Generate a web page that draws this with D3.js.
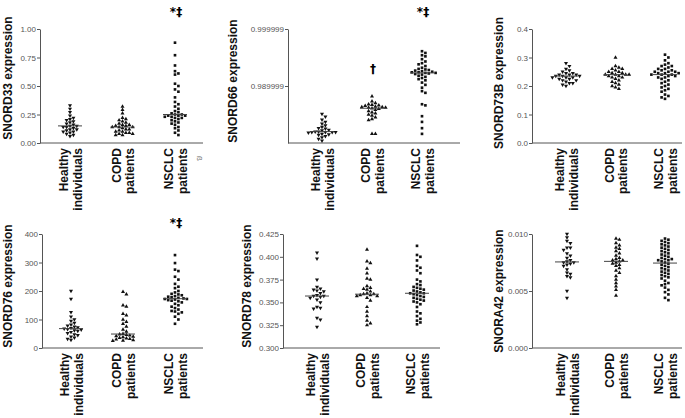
<!DOCTYPE html>
<html>
<head>
<meta charset="utf-8">
<script src="https://cdn.jsdelivr.net/npm/d3@7"></script>
<style>
  body { margin: 0; background: #fff; }
  svg { font-family: "Liberation Sans", Arial, sans-serif; }
  .tick text { fill: #555; font-size: 8px; }
  .tick line, .domain { stroke: #555; }
  .ylab, .xlab { font-weight: bold; font-size: 12px; fill: #111; }
  .sig { font-family: "DejaVu Sans", sans-serif; font-weight: bold; fill: #000; }
</style>
</head>
<body>
<div id="vis"></div>
<script>
const groups = ['Healthy individuals', 'COPD patients', 'NSCLC patients'];
const groupLines = [['Healthy', 'individuals'], ['COPD', 'patients'], ['NSCLC', 'patients']];

// SNORD33
const snord33Healthy = [0.33, 0.30, 0.27, 0.24, 0.22, 0.21, 0.20, 0.19, 0.18, 0.17, 0.16, 0.15, 0.15, 0.14, 0.14, 0.13, 0.12, 0.12, 0.11, 0.10, 0.10, 0.09, 0.08, 0.07, 0.06];
const snord33Copd = [0.32, 0.29, 0.26, 0.22, 0.21, 0.20, 0.19, 0.18, 0.17, 0.16, 0.16, 0.15, 0.15, 0.14, 0.14, 0.14, 0.13, 0.12, 0.12, 0.11, 0.10, 0.10, 0.09, 0.09, 0.08, 0.08, 0.07, 0.07];
const snord33Nsclc = [0.88, 0.77, 0.68, 0.63, 0.61, 0.60, 0.52, 0.50, 0.47, 0.45, 0.40, 0.36, 0.34, 0.32, 0.30, 0.28, 0.27, 0.26, 0.25, 0.25, 0.24, 0.24, 0.24, 0.23, 0.23, 0.22, 0.22, 0.21, 0.20, 0.19, 0.18, 0.17, 0.16, 0.14, 0.13, 0.11, 0.09, 0.07];

// SNORD66
const snord66Healthy = [0.9851, 0.9846, 0.9841, 0.9837, 0.9834, 0.9831, 0.9828, 0.9826, 0.9825, 0.9823, 0.9822, 0.9820, 0.9820, 0.9819, 0.9819, 0.9819, 0.9819, 0.9818, 0.9816, 0.9815, 0.9814, 0.9812, 0.9810, 0.9807, 0.9804];
const snord66Copd = [0.9882, 0.9873, 0.9870, 0.9868, 0.9867, 0.9866, 0.9865, 0.9864, 0.9863, 0.9863, 0.9862, 0.9862, 0.9861, 0.9860, 0.9858, 0.9856, 0.9854, 0.9852, 0.9850, 0.9848, 0.9845, 0.9842, 0.9840, 0.9816, 0.9816];
const snord66Nsclc = [0.9961, 0.9958, 0.9954, 0.9952, 0.9947, 0.9943, 0.9940, 0.9938, 0.9935, 0.9932, 0.9930, 0.9929, 0.9928, 0.9927, 0.9926, 0.9925, 0.9924, 0.9924, 0.9923, 0.9923, 0.9922, 0.9921, 0.9920, 0.9918, 0.9916, 0.9914, 0.9912, 0.9910, 0.9906, 0.9902, 0.9897, 0.9891, 0.9888, 0.9868, 0.9866, 0.9847, 0.9837, 0.9826, 0.9816];

// SNORD73B
const snord73bHealthy = [0.28, 0.27, 0.26, 0.255, 0.25, 0.245, 0.245, 0.24, 0.24, 0.24, 0.235, 0.235, 0.235, 0.23, 0.23, 0.23, 0.225, 0.225, 0.22, 0.22, 0.215, 0.21, 0.21, 0.205, 0.20];
const snord73bCopd = [0.30, 0.27, 0.265, 0.26, 0.26, 0.255, 0.25, 0.25, 0.245, 0.245, 0.24, 0.24, 0.24, 0.24, 0.235, 0.235, 0.23, 0.23, 0.225, 0.22, 0.215, 0.21, 0.205, 0.20, 0.195, 0.19];
const snord73bNsclc = [0.31, 0.30, 0.29, 0.28, 0.275, 0.27, 0.27, 0.265, 0.26, 0.26, 0.255, 0.255, 0.25, 0.25, 0.25, 0.245, 0.245, 0.245, 0.24, 0.24, 0.24, 0.235, 0.235, 0.23, 0.23, 0.225, 0.22, 0.215, 0.21, 0.205, 0.20, 0.195, 0.19, 0.185, 0.18, 0.17, 0.165, 0.16, 0.155];

// SNORD76
const snord76Healthy = [200, 172, 126, 110, 100, 95, 88, 82, 78, 75, 72, 70, 68, 66, 64, 62, 60, 56, 52, 48, 45, 40, 36, 32, 28];
const snord76Copd = [197, 188, 150, 145, 120, 115, 100, 92, 85, 75, 65, 58, 50, 48, 46, 44, 42, 40, 38, 36, 34, 32, 30, 28, 26, 25];
const snord76Nsclc = [326, 298, 275, 270, 250, 240, 225, 215, 210, 200, 195, 190, 188, 185, 182, 180, 178, 176, 174, 172, 172, 170, 168, 166, 164, 160, 155, 150, 145, 140, 135, 130, 128, 125, 120, 110, 100, 85];

// SNORD78
const snord78Healthy = [0.4045, 0.398, 0.375, 0.367, 0.365, 0.364, 0.363, 0.362, 0.360, 0.358, 0.357, 0.357, 0.356, 0.355, 0.353, 0.350, 0.345, 0.344, 0.343, 0.333, 0.331, 0.323];
const snord78Copd = [0.408, 0.395, 0.393, 0.387, 0.382, 0.376, 0.375, 0.368, 0.366, 0.365, 0.364, 0.362, 0.360, 0.359, 0.359, 0.358, 0.358, 0.357, 0.357, 0.355, 0.352, 0.345, 0.340, 0.335, 0.330, 0.327, 0.325];
const snord78Nsclc = [0.412, 0.402, 0.400, 0.396, 0.390, 0.388, 0.385, 0.382, 0.375, 0.373, 0.370, 0.369, 0.367, 0.366, 0.365, 0.364, 0.363, 0.362, 0.361, 0.360, 0.360, 0.359, 0.358, 0.357, 0.356, 0.355, 0.354, 0.353, 0.352, 0.351, 0.350, 0.348, 0.345, 0.340, 0.338, 0.335, 0.332, 0.330, 0.328, 0.326];

// SNORA42
const snora42Healthy = [0.0100, 0.0097, 0.0094, 0.0092, 0.0088, 0.0088, 0.0086, 0.0083, 0.0081, 0.0079, 0.0077, 0.0076, 0.0075, 0.0075, 0.0074, 0.0073, 0.0072, 0.0069, 0.0066, 0.0065, 0.0063, 0.0062, 0.0050, 0.0044];
const snora42Copd = [0.0096, 0.0095, 0.0092, 0.0090, 0.0088, 0.0087, 0.0085, 0.0083, 0.0081, 0.0079, 0.0078, 0.0077, 0.0077, 0.0076, 0.0075, 0.0074, 0.0073, 0.0072, 0.0070, 0.0068, 0.0066, 0.0063, 0.0060, 0.0057, 0.0054, 0.0051, 0.0046];
const snora42Nsclc = [0.0096, 0.0095, 0.0094, 0.0093, 0.0092, 0.0091, 0.0090, 0.0089, 0.0088, 0.0087, 0.0086, 0.0085, 0.0084, 0.0083, 0.0082, 0.0081, 0.0080, 0.0079, 0.0078, 0.0078, 0.0077, 0.0077, 0.0076, 0.0075, 0.0074, 0.0073, 0.0072, 0.0071, 0.0070, 0.0069, 0.0068, 0.0067, 0.0066, 0.0065, 0.0064, 0.0063, 0.0062, 0.0061, 0.0059, 0.0057, 0.0056, 0.0055, 0.0053, 0.0051, 0.0049, 0.0047, 0.0044, 0.0042];

// tick values per panel
const ticks33 = [0, 0.25, 0.5, 0.75, 1.0];
const ticks66 = [0.989999, 0.999999];
const ticks73b = [0, 0.1, 0.2, 0.3, 0.4];
const ticks76 = [0, 100, 200, 300, 400];
const ticks78 = [0.300, 0.325, 0.350, 0.375, 0.400, 0.425];
const ticks42 = [0, 0.005, 0.010];

const panels = [
  {label: 'SNORD33 expression', data: [snord33Healthy, snord33Copd, snord33Nsclc], domain: [0, 1], ticks: ticks33, fmt: d3.format('.2f'),
   x0: 40, x1: 203, c: [70, 175], yTop: 29, yBot: 143, labX: 12, labY: 78, marks: [{text: '*‡', g: 2, y: 16}]},
  {label: 'SNORD66 expression', data: [snord66Healthy, snord66Copd, snord66Nsclc], domain: [0.979999, 0.999999], ticks: ticks66, fmt: d3.format('.6f'),
   x0: 288, x1: 460, c: [322, 422], yTop: 29, yBot: 143, labX: 237, labY: 81, marks: [{text: '*‡', g: 2, y: 16}, {text: '†', g: 1, y: 73}]},
  {label: 'SNORD73B expression', data: [snord73bHealthy, snord73bCopd, snord73bNsclc], domain: [0, 0.4], ticks: ticks73b, fmt: d3.format('.1f'),
   x0: 532, x1: 682, c: [566, 665], yTop: 29, yBot: 143, labX: 503, labY: 83, marks: []},
  {label: 'SNORD76 expression', data: [snord76Healthy, snord76Copd, snord76Nsclc], domain: [0, 400], ticks: ticks76, fmt: d3.format('d'),
   x0: 42, x1: 203, c: [71, 175], yTop: 234, yBot: 348, labX: 12, labY: 286, marks: [{text: '*‡', g: 2, y: 227}]},
  {label: 'SNORD78 expression', data: [snord78Healthy, snord78Copd, snord78Nsclc], domain: [0.3, 0.425], ticks: ticks78, fmt: d3.format('.3f'),
   x0: 283, x1: 440, c: [317, 417], yTop: 234, yBot: 348, labX: 251, labY: 286, marks: []},
  {label: 'SNORA42 expression', data: [snora42Healthy, snora42Copd, snora42Nsclc], domain: [0, 0.010], ticks: ticks42, fmt: d3.format('.3f'),
   x0: 532, x1: 682, c: [567, 665], yTop: 234, yBot: 348, labX: 503, labY: 291, marks: []}
];

const svg = d3.select('#vis').append('svg').attr('width', 685).attr('height', 418);

const shapes = [
  d3.symbol().type(d3.symbolTriangle).size(7),
  d3.symbol().type(d3.symbolTriangle).size(7),
  d3.symbol().type(d3.symbolSquare).size(7)
];

// simple beeswarm offsets so close values spread sideways
function swarm(ys, gap) {
  const placed = [];
  const order = ys.map((y, i) => i).sort((a, b) => ys[a] - ys[b]);
  const out = new Array(ys.length);
  order.forEach(i => {
    const y = ys[i];
    for (let k = 0; k < 60; k++) {
      const dx = (k % 2 ? 1 : -1) * Math.ceil(k / 2) * gap * 0.5;
      const hit = placed.some(p => (p.x - dx) ** 2 + (p.y - y) ** 2 < gap * gap);
      if (!hit) { placed.push({x: dx, y}); out[i] = dx; break; }
    }
  });
  return out;
}

panels.forEach(p => {
  const g = svg.append('g');
  const x = d3.scalePoint().domain(groups).range(p.c);
  const y = d3.scaleLinear().domain(p.domain).range([p.yBot, p.yTop]);

  g.append('g')
    .attr('transform', `translate(${p.x0},0)`)
    .call(d3.axisLeft(y).tickValues(p.ticks).tickFormat(p.fmt).tickSize(3).tickPadding(1).tickSizeOuter(0));

  g.append('line')
    .attr('x1', p.x0).attr('x2', p.x1)
    .attr('y1', p.yBot).attr('y2', p.yBot)
    .attr('stroke', '#555');

  g.append('text')
    .attr('class', 'ylab')
    .attr('transform', `translate(${p.labX},${p.labY}) rotate(-90)`)
    .attr('text-anchor', 'middle')
    .text(p.label);

  groups.forEach((grp, gi) => {
    const vals = p.data[gi];
    const ys = vals.map(v => y(v));
    const offs = swarm(ys, 3.4);
    const cx = x(grp);

    g.selectAll(null)
      .data(vals)
      .join('path')
      .attr('d', shapes[gi])
      .attr('transform', (d, i) => `translate(${cx + offs[i]},${y(d)})${gi === 0 ? ' rotate(180)' : ''}`)
      .attr('fill', '#111');

    const med = d3.median(vals);
    g.append('line')
      .attr('x1', cx - 12).attr('x2', cx + 12)
      .attr('y1', y(med)).attr('y2', y(med))
      .attr('stroke', '#444').attr('stroke-width', 1);

    groupLines[gi].forEach((ln, li) => {
      g.append('text')
        .attr('class', 'xlab')
        .attr('transform', `translate(${cx - 2 + li * 13.5},${p.yBot + 5}) rotate(-90)`)
        .attr('text-anchor', 'end')
        .text(ln);
    });
  });

  p.marks.forEach(m => {
    g.append('text')
      .attr('class', 'sig')
      .attr('x', x(groups[m.g]) + 1)
      .attr('y', m.y)
      .attr('text-anchor', 'middle')
      .attr('font-size', 12)
      .text(m.text);
  });
});

// small stray glyph next to first panel
svg.append('text')
  .attr('transform', 'translate(197,156) rotate(90)')
  .attr('font-size', 8)
  .attr('fill', '#666')
  .text('ß');
</script>
</body>
</html>
